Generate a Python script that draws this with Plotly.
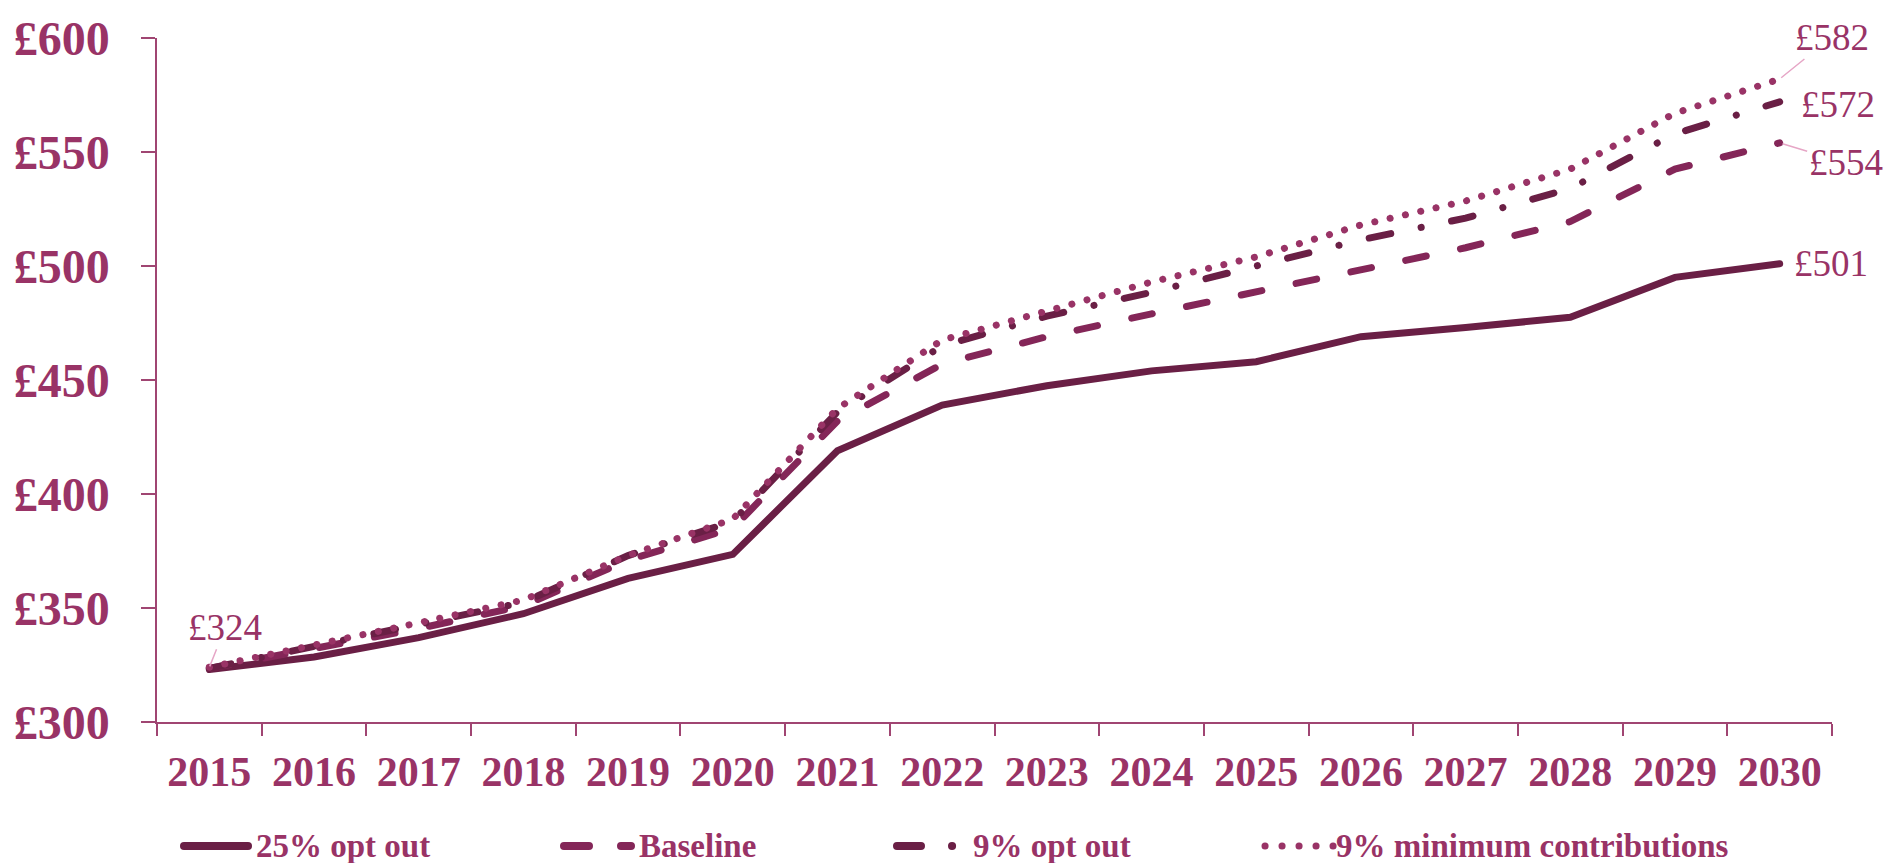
import plotly.graph_objects as go

# Projected values by year, in pounds
years = ["2015", "2016", "2017", "2018", "2019", "2020", "2021", "2022",
         "2023", "2024", "2025", "2026", "2027", "2028", "2029", "2030"]
opt_out_25 = [323, 328.5, 337, 347.5, 363, 373.5, 419, 439,
              447.5, 454, 458, 469, 473, 477.5, 495, 501]
baseline = [323.5, 332, 341, 351, 371, 385, 432, 457,
            469, 479, 488.5, 498, 508, 519.5, 542.5, 554]
opt_out_9 = [323.5, 333, 342.5, 352.5, 373, 388, 436, 465,
             478, 488.5, 500, 511.5, 521, 534, 558, 572]
min_contrib_9 = [324, 333.5, 343.5, 353.5, 373, 389, 437.5, 467.5,
                 480, 493, 504, 518, 528.5, 542.5, 567, 582]

series_names = ["25% opt out", "Baseline", "9% opt out", "9% minimum contributions"]
y_ticks = [300, 350, 400, 450, 500, 550, 600]

POUND = "\u00a3"

DARK = "#6a1f45"
MID = "#842658"
PINK = "#993366"
LEADER = "#e6a6c6"
TEXT = "#993366"
AXIS = "#a04572"
SERIF = "Liberation Serif"

styles = [
    dict(color=DARK, width=7, dash="solid"),
    dict(color=MID, width=7, dash="21px,35px"),
    dict(color=DARK, width=7, dash="22px,31px,0.1px,31px"),
    dict(color=PINK, width=7, dash="0.1px,15.6px"),
]

fig = go.Figure()
for name, values, st in zip(series_names,
                            [opt_out_25, baseline, opt_out_9, min_contrib_9],
                            styles):
    fig.add_trace(go.Scatter(x=years, y=values, mode="lines", name=name,
                             line=st, showlegend=False, hoverinfo="skip"))

# Plot area in pixels: x 157..1832, y 33..722
L, R, T, B = 157, 55, 33, 141
W, H = 1887, 863
PW, PH = W - L - R, H - T - B


def px_x(px):
    return (px - L) / PW


def px_y(py):
    return (H - B - py) / PH


def money(v):
    return POUND + str(int(round(v)))


annotations = []
label_font = dict(family=SERIF, size=37, color=TEXT)

# End-of-line value labels
annotations.append(dict(x=15, y=min_contrib_9[-1], xref="x", yref="y",
                        text=money(min_contrib_9[-1]), font=label_font,
                        showarrow=True, arrowhead=0, arrowwidth=1.5,
                        arrowcolor=LEADER, ax=52, ay=-42, standoff=2))
annotations.append(dict(x=15, y=opt_out_9[-1], xref="x", yref="y",
                        text=money(opt_out_9[-1]), font=label_font,
                        showarrow=False, xshift=58, yshift=-3))
annotations.append(dict(x=15, y=baseline[-1], xref="x", yref="y",
                        text=money(baseline[-1]), font=label_font,
                        showarrow=True, arrowhead=0, arrowwidth=1.5,
                        arrowcolor=LEADER, ax=66, ay=20, standoff=3))
annotations.append(dict(x=15, y=opt_out_25[-1], xref="x", yref="y",
                        text=money(opt_out_25[-1]), font=label_font,
                        showarrow=False, xshift=51, yshift=0))
annotations.append(dict(x=0, y=min_contrib_9[0], xref="x", yref="y",
                        text=money(min_contrib_9[0]), font=label_font,
                        showarrow=True, arrowhead=0, arrowwidth=1.5,
                        arrowcolor=LEADER, ax=16, ay=-40, standoff=1))

# Legend row drawn beneath the axis
legend_y = 847
legend_items = [
    # (sample start, sample end, text start, line width, dash)
    (184, 248, 254, 8, "solid"),
    (564, 631, 637, 8, "25px,32px"),
    (897, 952.1, 971, 8, "24px,31px,0.1px,40px"),
    (1265, 1333.1, 1334, 7, "0.1px,16.9px"),
]
legend_colors = [DARK, MID, DARK, PINK]
shapes = []
for (x0, x1, tx, w, dash), name, col in zip(legend_items, series_names, legend_colors):
    shapes.append(dict(type="line", xref="paper", yref="paper",
                       x0=px_x(x0), x1=px_x(x1), y0=px_y(legend_y), y1=px_y(legend_y),
                       line=dict(color=col, width=w, dash=dash), layer="above"))
    annotations.append(dict(x=px_x(tx), y=px_y(legend_y), xref="paper", yref="paper",
                            xanchor="left", yanchor="middle", showarrow=False,
                            text=name,
                            font=dict(family=SERIF, size=33, color=TEXT, weight="bold")))

fig.update_layout(
    width=W, height=H,
    margin=dict(l=L, r=R, t=T, b=B, pad=0),
    paper_bgcolor="white", plot_bgcolor="white",
    showlegend=False,
    annotations=annotations,
    shapes=shapes,
    xaxis=dict(type="category", range=[-0.5, len(years) - 0.5],
               showline=True, linecolor=AXIS, linewidth=1.5,
               ticks="outside", tickson="boundaries", ticklen=12,
               tickcolor=AXIS, tickwidth=1.5, showgrid=False, zeroline=False,
               ticklabelstandoff=12,
               tickfont=dict(family=SERIF, size=42, color=TEXT, weight="bold")),
    yaxis=dict(range=[300, 600], tickmode="array", tickvals=y_ticks,
               ticktext=[money(v) for v in y_ticks],
               showline=True, linecolor=AXIS, linewidth=1.5,
               ticks="outside", ticklen=14, tickcolor=AXIS, tickwidth=1.5,
               showgrid=False, zeroline=False, ticklabelstandoff=22,
               tickfont=dict(family=SERIF, size=48, color=TEXT, weight="bold")),
)

round_caps = (
    "var s=document.createElement('style');"
    "s.textContent='html,body{margin:0;padding:0;overflow:hidden}"
    " .js-line{stroke-linecap:round}"
    " .shapelayer path{stroke-linecap:round}';"
    "document.head.appendChild(s);"
)

fig.write_html("out.html", post_script=round_caps)
